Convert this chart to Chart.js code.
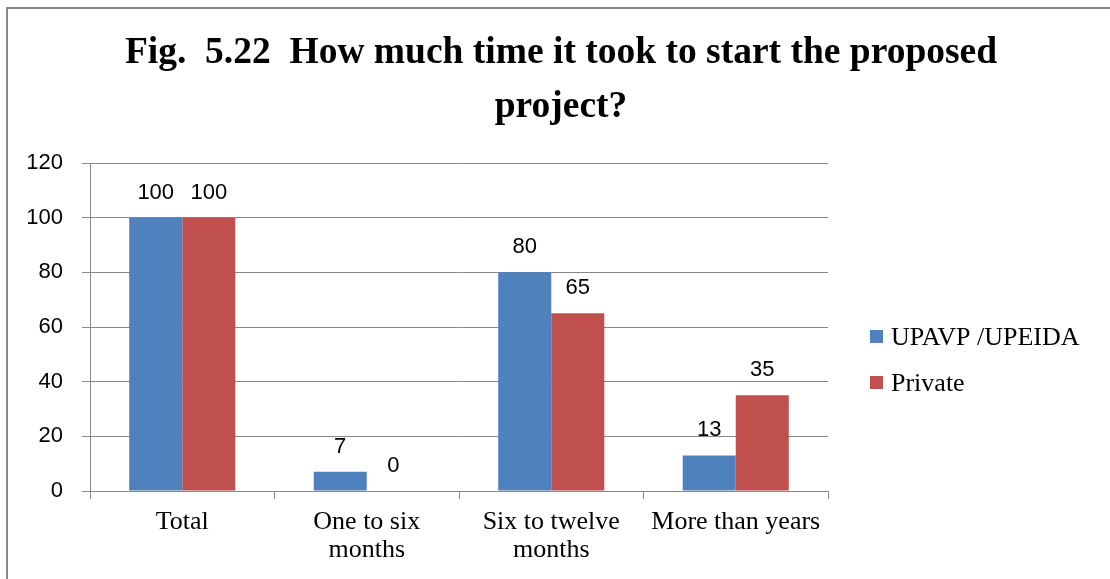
<!DOCTYPE html>
<html>
<head>
<meta charset="utf-8">
<script src="https://cdn.jsdelivr.net/npm/chart.js@4/dist/chart.umd.min.js"></script>
<style>
  html, body { margin: 0; padding: 0; background: #fff; }
</style>
</head>
<body>
<canvas id="myChart" width="1110" height="579"></canvas>
<script>
const categories = ["Total", ["One to six", "months"], ["Six to twelve", "months"], "More than years"];
const upavpValues = [100, 7, 80, 13];
const privateValues = [100, 0, 65, 35];
const seriesNames = ["UPAVP /UPEIDA", "Private"];
const titleLines = ["Fig.  5.22  How much time it took to start the proposed", "project?"];
const yTicks = { min: 0, max: 120, step: 20 };

const gridGray = "#888888";
const sansFont = "'Liberation Sans', Arial, sans-serif";
const serifFont = "'Liberation Serif', 'Times New Roman', serif";

// frame line on top and left edges
const framePlugin = {
  id: "frame",
  beforeDraw(chart) {
    const c = chart.ctx;
    c.save();
    c.strokeStyle = gridGray;
    c.lineWidth = 2;
    c.beginPath();
    c.moveTo(7, chart.height);
    c.lineTo(7, 8);
    c.lineTo(chart.width, 8);
    c.stroke();
    c.restore();
  },
};

// two-line title centred on the whole picture
const bigTitle = {
  id: "bigTitle",
  afterDraw(chart) {
    const c = chart.ctx;
    c.save();
    c.font = "bold 37.5px " + serifFont;
    c.fillStyle = "#000";
    c.textAlign = "center";
    c.textBaseline = "alphabetic";
    titleLines.forEach((line, i) => {
      c.fillText(line, 561, 63 + i * 54);
    });
    c.restore();
  },
};

// values above each bar
const valueLabels = {
  id: "valueLabels",
  afterDatasetsDraw(chart) {
    const c = chart.ctx;
    c.save();
    c.font = "22px " + sansFont;
    c.fillStyle = "#000";
    c.textAlign = "center";
    c.textBaseline = "alphabetic";
    chart.data.datasets.forEach((ds, i) => {
      chart.getDatasetMeta(i).data.forEach((bar, j) => {
        c.fillText(String(ds.data[j]), bar.x, bar.y - 19);
      });
    });
    c.restore();
  },
};

// legend on the right
const sideLegend = {
  id: "sideLegend",
  afterDraw(chart) {
    const c = chart.ctx;
    const area = chart.chartArea;
    c.save();
    c.font = "26px " + serifFont;
    c.textBaseline = "alphabetic";
    chart.data.datasets.forEach((ds, i) => {
      const top = 330 + i * 46;
      c.fillStyle = ds.backgroundColor;
      c.fillRect(area.right + 42, top, 13, 13);
      c.fillStyle = "#000";
      c.fillText(ds.label, area.right + 63, top + 15);
    });
    c.restore();
  },
};

new Chart(document.getElementById("myChart"), {
  type: "bar",
  data: {
    labels: categories,
    datasets: [
      {
        label: seriesNames[0],
        data: upavpValues,
        backgroundColor: "#4F81BD",
        categoryPercentage: 0.575,
        barPercentage: 1,
      },
      {
        label: seriesNames[1],
        data: privateValues,
        backgroundColor: "#C0504D",
        categoryPercentage: 0.575,
        barPercentage: 1,
      },
    ],
  },
  options: {
    responsive: false,
    animation: false,
    layout: {
      padding: { left: 28, right: 282, top: 163, bottom: 0 },
    },
    plugins: {
      legend: { display: false },
      tooltip: { enabled: false },
      title: { display: false },
    },
    scales: {
      x: {
        grid: {
          drawOnChartArea: false,
          tickLength: 8,
          color: gridGray,
        },
        border: { color: gridGray },
        ticks: {
          color: "#000",
          padding: 9,
          font: { family: serifFont, size: 26, lineHeight: 1.077 },
          maxRotation: 0,
          autoSkip: false,
        },
        afterFit(scale) {
          scale.height = 88;
        },
      },
      y: {
        min: yTicks.min,
        max: yTicks.max,
        grid: { color: gridGray, tickLength: 8 },
        border: { color: gridGray },
        ticks: {
          stepSize: yTicks.step,
          color: "#000",
          padding: 19,
          font: { family: sansFont, size: 22 },
        },
        afterFit(scale) {
          scale.width = 62;
        },
      },
    },
  },
  plugins: [framePlugin, bigTitle, valueLabels, sideLegend],
});
</script>
</body>
</html>
